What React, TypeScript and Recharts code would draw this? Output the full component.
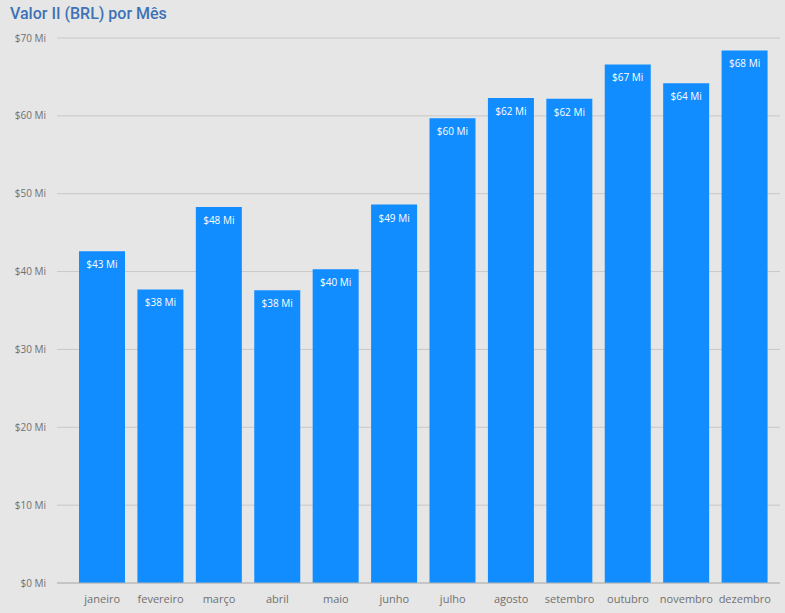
import { BarChart, Bar, XAxis, YAxis, CartesianGrid, LabelList } from 'recharts'

const months = ['janeiro', 'fevereiro', 'março', 'abril', 'maio', 'junho', 'julho', 'agosto', 'setembro', 'outubro', 'novembro', 'dezembro']
const values = [42.6, 37.7, 48.3, 37.6, 40.3, 48.6, 59.7, 62.3, 62.2, 66.6, 64.2, 68.4]
const yTicks = [0, 10, 20, 30, 40, 50, 60, 70]

const data = months.map((m, i) => ({ month: m, value: values[i] }))

const fmt = (v: number) => `$${Math.round(v)} Mi`

// white value label inside the top of each bar, kept on one line
const TopLabel = (props: any) => {
  const { x, y, width, value } = props
  return (
    <text
      x={Number(x) + Number(width) / 2}
      y={Number(y) + 17}
      textAnchor="middle"
      fill="#ffffff"
      fontSize={10}
      fontFamily='"Open Sans", sans-serif'
    >
      {fmt(Number(value))}
    </text>
  )
}

export default function App() {
  return (
    <div
      style={{
        position: 'absolute',
        top: 0,
        left: 0,
        width: 785,
        height: 613,
        background: '#e6e6e6',
        fontFamily: '"Open Sans", sans-serif',
      }}
    >
      <div
        style={{
          position: 'absolute',
          left: 10,
          top: 4,
          fontFamily: 'Roboto, sans-serif',
          fontSize: 16,
          fontWeight: 500,
          color: '#3d72b6',
        }}
      >
        Valor II (BRL) por Mês
      </div>
      <BarChart
        width={785}
        height={613}
        data={data}
        margin={{ top: 38, right: 5, left: 0, bottom: 0 }}
        barSize={46}
      >
        <CartesianGrid vertical={false} stroke="#c8c8c8" />
        <XAxis
          dataKey="month"
          height={30}
          padding={{ left: 16, right: 6 }}
          tickLine={false}
          axisLine={{ stroke: '#b4b4b4' }}
          tick={{ fill: '#707070', fontSize: 11 }}
          tickMargin={6}
          interval={0}
        />
        <YAxis
          domain={[0, 70]}
          ticks={yTicks}
          width={57}
          axisLine={false}
          tickLine={false}
          tickSize={0}
          tickMargin={11}
          tick={{ fill: '#707070', fontSize: 10 }}
          tickFormatter={(v: number) => `$${v} Mi`}
        />
        <Bar dataKey="value" fill="#118dff" isAnimationActive={false}>
          <LabelList dataKey="value" content={TopLabel} />
        </Bar>
      </BarChart>
    </div>
  )
}
